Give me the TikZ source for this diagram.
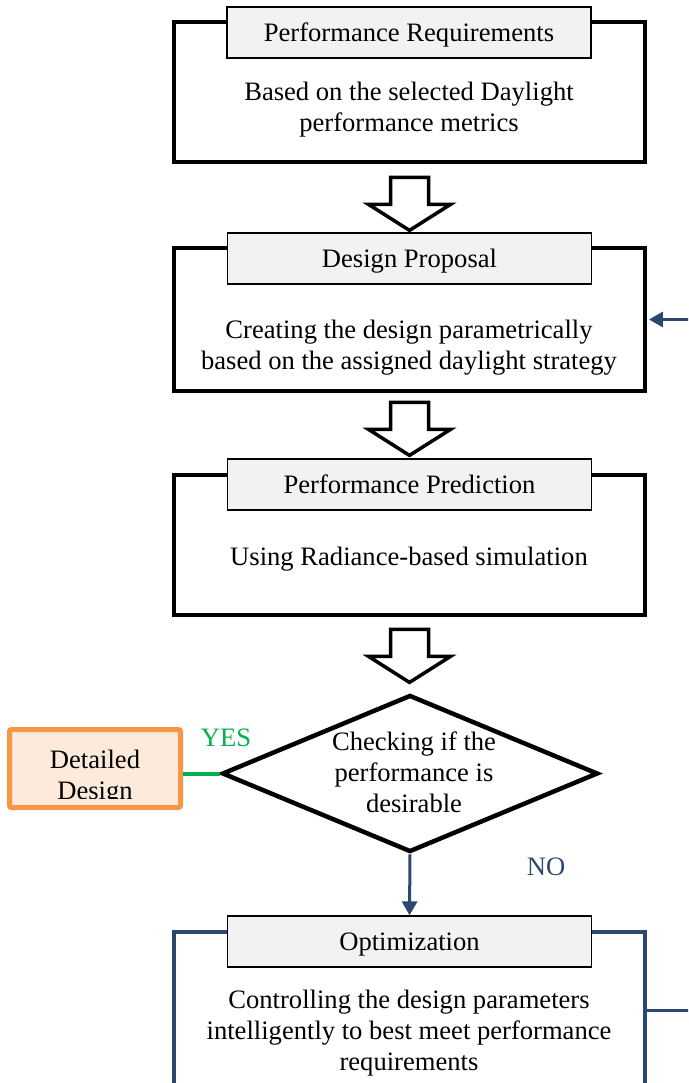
\documentclass[tikz,border=0pt]{standalone}
\usepackage{fontspec}
\setmainfont{Liberation Serif}
\usetikzlibrary{arrows.meta,shapes.geometric}
\definecolor{navyline}{RGB}{44,72,112}
\definecolor{barfill}{RGB}{242,242,242}
\definecolor{ddfill}{RGB}{253,234,218}
\definecolor{ddedge}{RGB}{247,150,70}
\definecolor{yesgreen}{RGB}{0,176,80}
\begin{document}
\begin{tikzpicture}[x=1pt,y=-1pt,
  every node/.style={font=\fontsize{26.6}{31}\selectfont, inner sep=0pt},
  stagebox/.style={draw, line width=4.8pt, minimum width=471pt},
  titlebar/.style={draw, line width=1.2pt, fill=barfill, minimum width=364pt, minimum height=51pt, text height=21pt, text depth=3pt},
  bodytext/.style={align=center},
  blockdown/.pic={\draw[line width=3.5pt, fill=white] (-19,0) -- (19,0) -- (19,27) -- (41,27) -- (0,53) -- (-41,27) -- (-19,27) -- cycle;},
  flow/.style={draw=navyline, line width=3pt, -{Triangle[length=14pt,width=15pt]}}
]
\useasboundingbox (0,0) rectangle (688,1083);
\clip (0,0) rectangle (688,1083);

% stage 1: requirements
\node[stagebox, minimum height=140pt] (b1) at (409.5,92) {};
\node[titlebar] (t1) at (409,32.5) {Performance Requirements};
\node[bodytext] (x1) at (409,110) {Based on the selected Daylight\\performance metrics};
\path (b1.south) ++(0,13) pic {blockdown};

% stage 2: design proposal
\node[stagebox, minimum height=143pt] (b2) at (409.5,319.5) {};
\node[titlebar] (t2) at (409.5,258.5) {Design Proposal};
\node[bodytext] (x2) at (409,348) {Creating the design parametrically\\based on the assigned daylight strategy};
\path (b2.south) ++(0,9) pic {blockdown};

% stage 3: prediction
\node[stagebox, minimum height=140pt] (b3) at (409.5,545) {};
\node[titlebar] (t3) at (409.5,484.5) {Performance Prediction};
\node[bodytext] (x3) at (409,559) {Using Radiance-based simulation};
\path (b3.south) ++(0,12) pic {blockdown};

% decision
\node[diamond, draw, line width=4.5pt, minimum width=376pt, minimum height=157pt, aspect=2.4] (d) at (410,773.5) {};
\node[bodytext] (dq) at (414,772) {Checking if the\\performance is\\desirable};

% detailed design outcome
\node[draw=ddedge, fill=ddfill, line width=5pt, rounded corners=2pt, minimum width=171pt, minimum height=78pt] (dd) at (95,768.5) {};
\begin{scope}
  \clip (dd.north west) rectangle ([yshift=11.5pt]dd.south east);
  \node[bodytext] (ddt) at (95,777.5) {Detailed\\Design};
\end{scope}
\draw[yesgreen, line width=4pt] (dd.east |- d.west) -- (d.west);
\node[text=yesgreen] (yes) at (226,738) {YES};
\node[text=navyline] (no) at (546,867) {NO};

% stage 4: optimization
\node[stagebox, draw=navyline, line width=3.8pt, minimum height=190pt] (b4) at (409.5,1027) {};
\node[titlebar] (t4) at (409.5,941.5) {Optimization};
\node[bodytext] (x4) at (409,1033) {Controlling the design parameters\\intelligently to best meet performance\\requirements};

\draw[flow] (d.south) -- (t4.north);
\coordinate (fb) at (706,1010);
\draw[flow, shorten >=1.5pt] (fb -| b4.east) -- (fb) |- (b2.east);
\end{tikzpicture}
\end{document}
